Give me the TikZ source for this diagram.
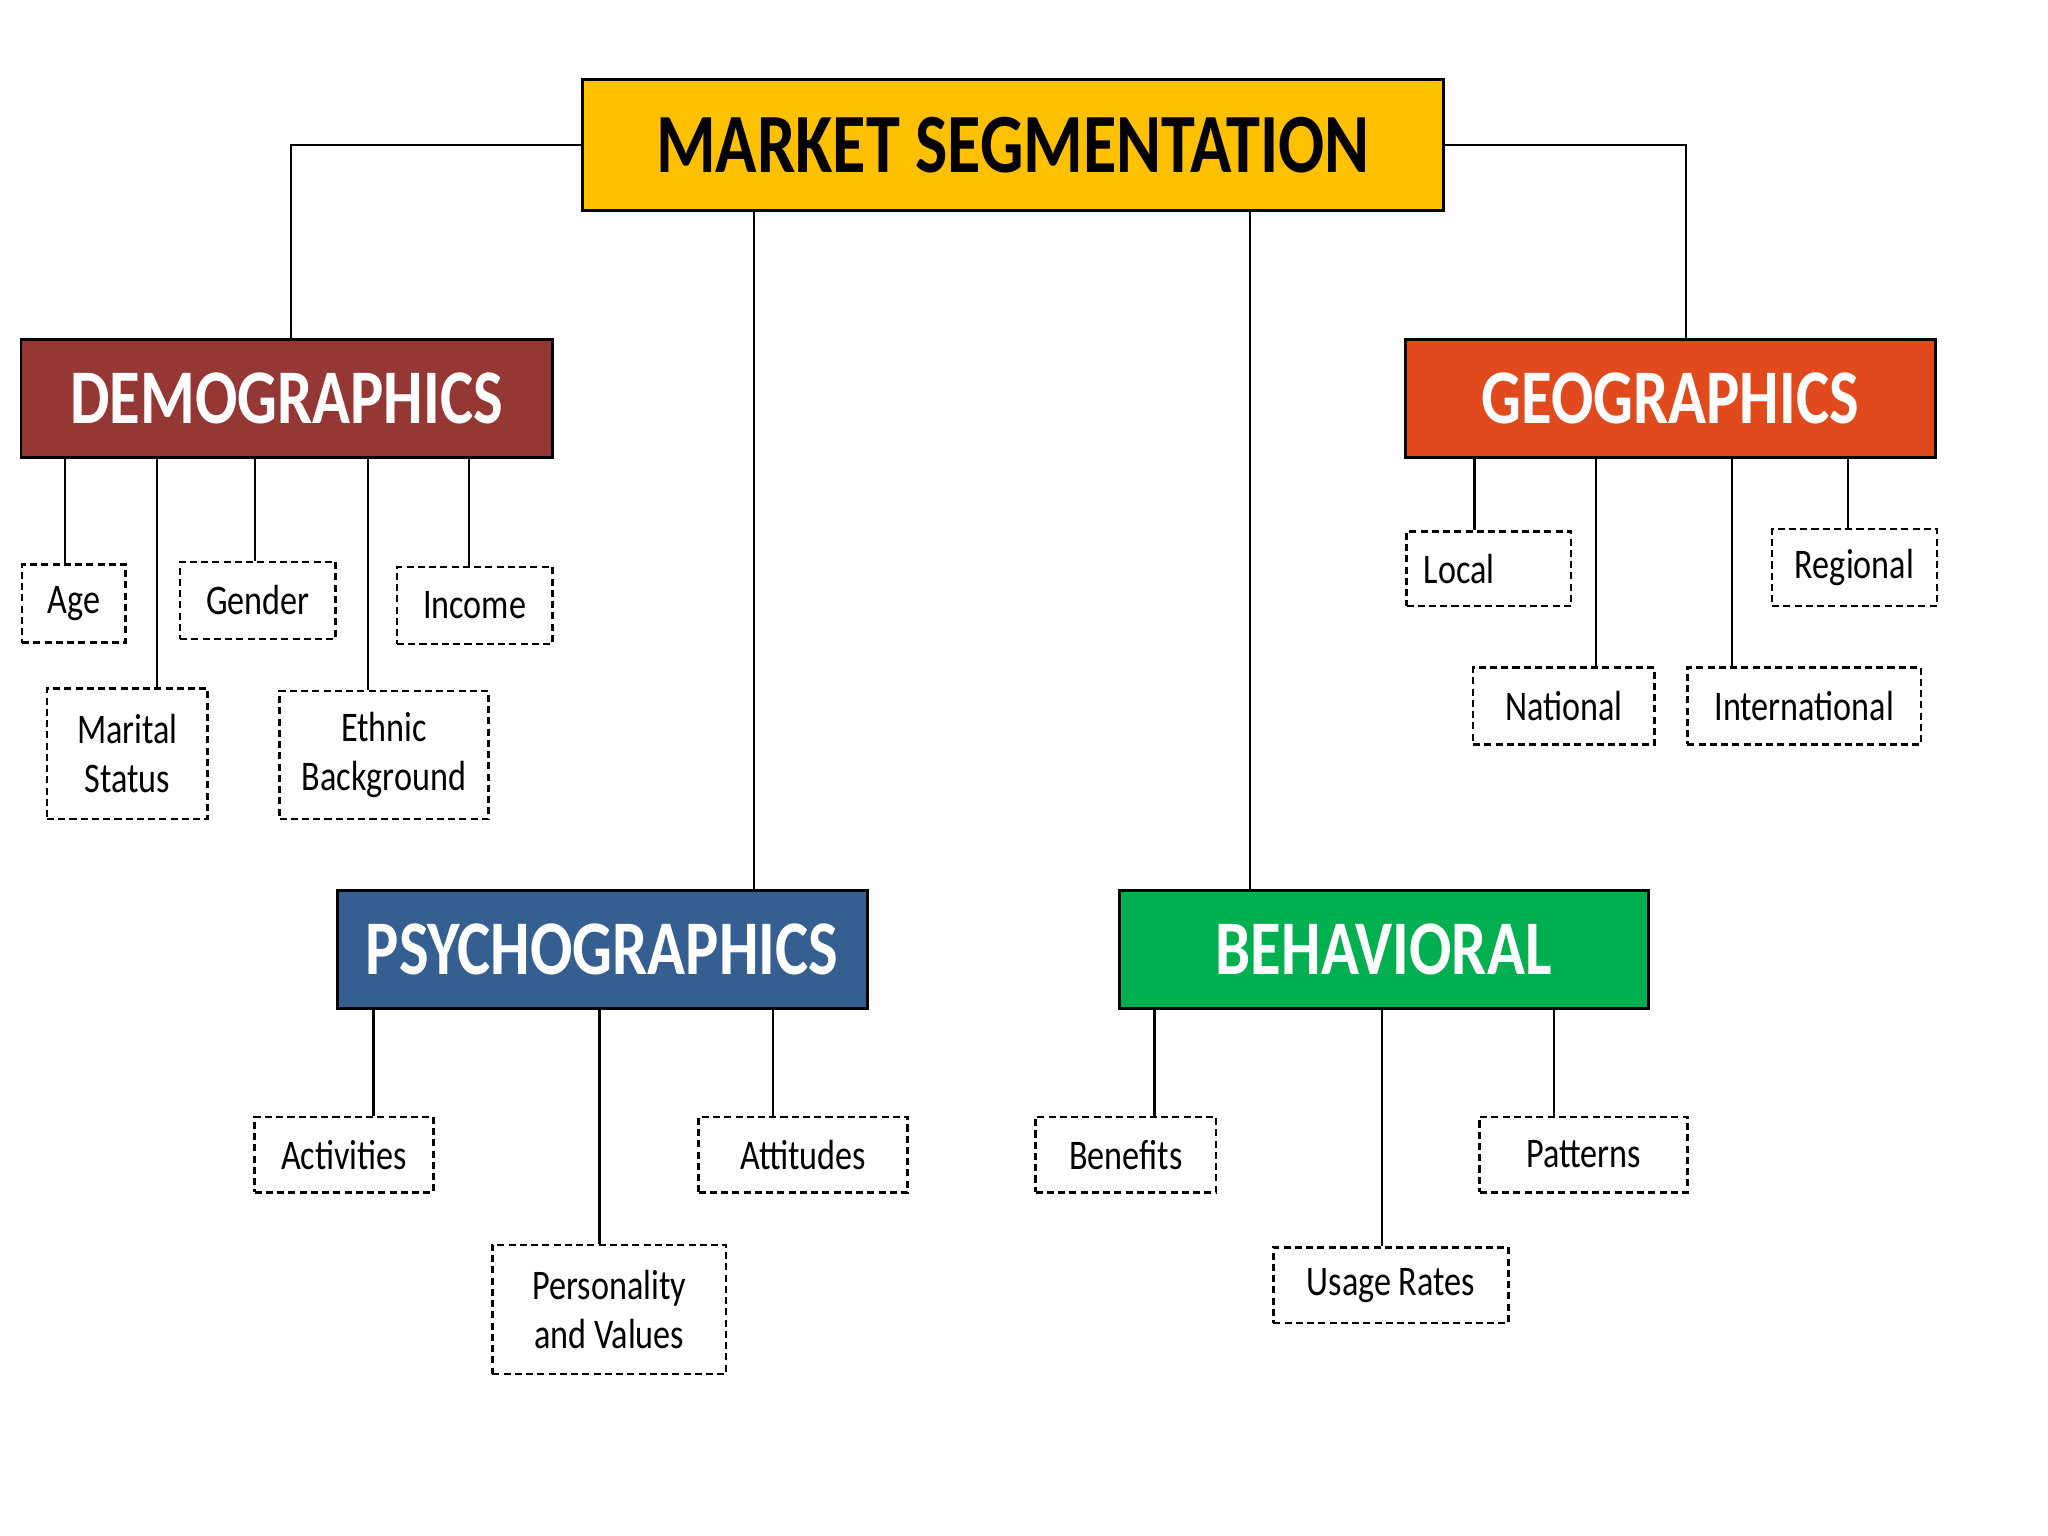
\documentclass[tikz,border=0pt]{standalone}
\usepackage{fontspec}
\setmainfont[FakeStretch=0.81]{Carlito}
\definecolor{mktgold}{HTML}{FFC000}
\definecolor{demored}{HTML}{953735}
\definecolor{georange}{HTML}{E04A1D}
\definecolor{psyblue}{HTML}{365F91}
\definecolor{behgreen}{HTML}{00B050}
\tikzset{
  segbox/.style={draw=black, line width=0.8pt, inner sep=0pt, minimum height=1.175cm,
    text=white, font=\fontsize{22}{26}\selectfont\bfseries},
  leaf/.style={draw=black, line width=0.7pt, dash pattern=on 2pt off 1.2pt,
    inner sep=0pt, minimum height=0.77cm, align=center, font=\fontsize{12}{14}\selectfont},
  link/.style={line width=0.6pt, draw=black}
}
\begin{document}
\begin{tikzpicture}[x=1cm,y=1cm]
\useasboundingbox (0,0) rectangle (20.48,15.36);
% main boxes
\node[segbox, fill=mktgold, text=black, minimum width=8.61cm, minimum height=1.306cm,
  font=\fontsize{24}{28}\selectfont\bfseries] (mkt) at (10.128,13.91) {MARKET SEGMENTATION};
\node[segbox, fill=demored, minimum width=5.315cm] (demo) at (2.867,11.375) {DEMOGRAPHICS};
\node[segbox, fill=georange, minimum width=5.30cm] (geo) at (16.704,11.375) {GEOGRAPHICS};
\node[segbox, fill=psyblue, minimum width=5.30cm] (psy) at (6.021,5.864) {PSYCHOGRAPHICS};
\node[segbox, fill=behgreen, minimum width=5.29cm] (beh) at (13.837,5.864) {BEHAVIORAL};
% demographics
\node[leaf, minimum width=1.032cm, minimum height=0.784cm] (age) at (0.738,9.325) {Age};
\node[leaf, minimum width=1.554cm] (gen) at (2.579,9.357) {Gender};
\node[leaf, minimum width=1.554cm] (inc) at (4.747,9.305) {Income};
\node[leaf, minimum width=1.606cm, minimum height=1.306cm] (mar) at (1.273,7.823) {Marital\\Status};
\node[leaf, minimum width=2.09cm, minimum height=1.28cm] (eth) at (3.840,7.810) {Ethnic\\Background};
% geographics
\node[leaf, minimum width=1.646cm, minimum height=0.744cm, text width=1.3cm, align=left] (loc) at (14.888,9.671) {Local};
\node[leaf, minimum width=1.646cm] (reg) at (18.545,9.684) {Regional};
\node[leaf, minimum width=1.815cm] (nat) at (15.639,8.300) {National};
\node[leaf, minimum width=2.338cm] (intl) at (18.042,8.300) {International};
% psychographics
\node[leaf, minimum width=1.789cm, minimum height=0.757cm] (act) at (3.441,3.814) {Activities};
\node[leaf, minimum width=2.09cm, minimum height=0.757cm] (att) at (8.032,3.814) {Attitudes};
\node[leaf, minimum width=2.338cm, minimum height=1.293cm] (pers) at (6.093,2.266) {Personality\\and Values};
% behavioral
\node[leaf, minimum width=1.802cm, minimum height=0.757cm] (ben) at (11.258,3.814) {Benefits};
\node[leaf, minimum width=2.077cm, minimum height=0.757cm] (pat) at (15.835,3.814) {Patterns};
\node[leaf, minimum width=2.351cm, minimum height=0.757cm] (use) at (13.909,2.508) {Usage Rates};
% links
\draw[link] (mkt.west) -| ([xshift=0.045cm]demo.north);
\draw[link] (mkt.east) -| ([xshift=0.16cm]geo.north);
\draw[link] ([xshift=1.515cm]psy.north) -- ([xshift=1.515cm]psy.north |- mkt.south);
\draw[link] ([xshift=-1.339cm]beh.north) -- ([xshift=-1.339cm]beh.north |- mkt.south);
\foreach \leaf/\dx in {age/-0.085, mar/0.294, gen/-0.03, eth/-0.157, inc/-0.06}
  \draw[link] ([xshift=\dx cm]\leaf.north) -- ([xshift=\dx cm]\leaf.north |- demo.south);
\foreach \leaf/\dx in {loc/-0.143, reg/-0.065, nat/0.32, intl/-0.724}
  \draw[link] ([xshift=\dx cm]\leaf.north) -- ([xshift=\dx cm]\leaf.north |- geo.south);
\foreach \leaf/\dx in {act/0.294, pers/-0.098, att/-0.30}
  \draw[link] ([xshift=\dx cm]\leaf.north) -- ([xshift=\dx cm]\leaf.north |- psy.south);
\foreach \leaf/\dx in {ben/0.287, use/-0.091, pat/-0.294}
  \draw[link] ([xshift=\dx cm]\leaf.north) -- ([xshift=\dx cm]\leaf.north |- beh.south);
\end{tikzpicture}
\end{document}
